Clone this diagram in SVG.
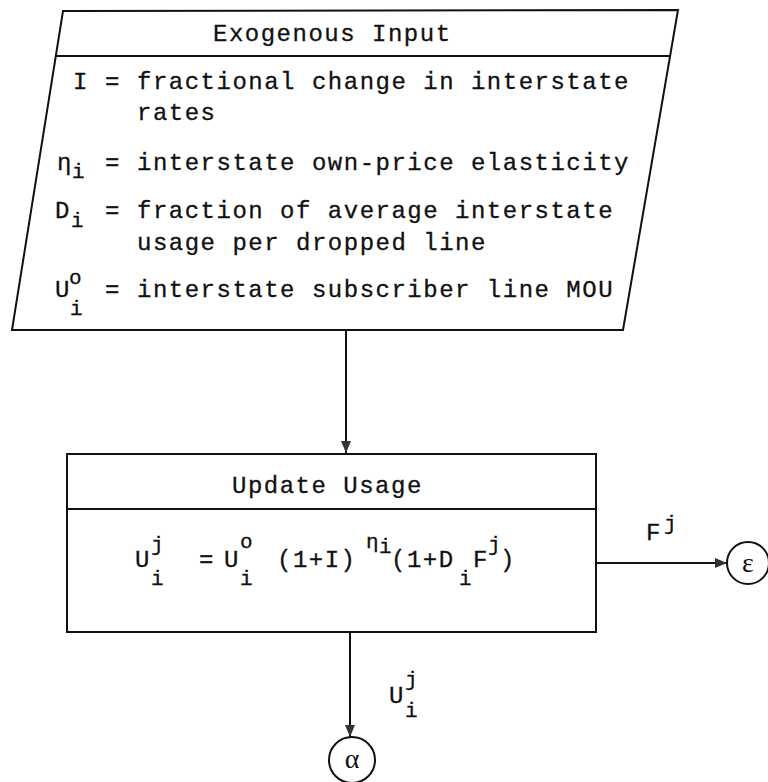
<svg xmlns="http://www.w3.org/2000/svg" width="768" height="782" viewBox="0 0 768 782">
<defs>
<style>
.t{font-family:"Liberation Mono","DejaVu Sans Mono",monospace;font-size:24px;letter-spacing:1.5px;fill:#111;stroke:#111;stroke-width:0.3}
.s{font-family:"Liberation Mono","DejaVu Sans Mono",monospace;font-size:21px;fill:#111;stroke:#111;stroke-width:0.3}
.g{font-family:"Liberation Serif","DejaVu Serif",serif;font-size:28px;fill:#111}
.ln{fill:none;stroke:#111;stroke-width:2}
</style>
<marker id="ah" viewBox="0 0 12 10" refX="12" refY="5" markerWidth="12" markerHeight="10" markerUnits="userSpaceOnUse" orient="auto">
<path d="M0,0 L12,5 L0,10 Z" fill="#333"/>
</marker>
</defs>
<rect width="768" height="782" fill="#fff"/>

<g id="exogenous-input">
<polygon class="ln" points="63,11 678,10 623,330 12,330"/>
<line class="ln" x1="56" y1="56" x2="671" y2="56"/>
<text class="t" x="213" y="41">Exogenous Input</text>
<text class="t" x="73" y="89">I</text>
<text class="t" x="105" y="89">=</text>
<text class="t" x="137" y="89">fractional change in interstate</text>
<text class="t" x="137" y="120">rates</text>
<text class="t" x="57" y="170">η</text>
<text class="s" x="72" y="178">i</text>
<text class="t" x="105" y="170">=</text>
<text class="t" x="137" y="170">interstate own-price elasticity</text>
<text class="t" x="55" y="218">D</text>
<text class="s" x="71" y="227">i</text>
<text class="t" x="105" y="218">=</text>
<text class="t" x="137" y="218">fraction of average interstate</text>
<text class="t" x="137" y="250">usage per dropped line</text>
<text class="t" x="55" y="297">U</text>
<text class="s" x="69" y="284">o</text>
<text class="s" x="70" y="315">i</text>
<text class="t" x="105" y="297">=</text>
<text class="t" x="137" y="297">interstate subscriber line MOU</text>
</g>

<g id="update-usage">
<rect class="ln" x="67" y="454" width="529" height="178"/>
<line class="ln" x1="67" y1="509" x2="596" y2="509"/>
<text class="t" x="232" y="493">Update Usage</text>
<text class="t" x="135" y="567">U</text>
<text class="s" x="151" y="551">j</text>
<text class="s" x="151" y="585">i</text>
<text class="t" x="199" y="567">=</text>
<text class="t" x="224" y="567">U</text>
<text class="s" x="240" y="548">o</text>
<text class="s" x="240" y="585">i</text>
<text class="t" x="277" y="567">(1+I)</text>
<text class="s" x="366" y="548">η</text>
<text class="s" x="379" y="553">i</text>
<text class="t" x="391" y="567">(1+D</text>
<text class="s" x="459" y="585">i</text>
<text class="t" x="473" y="567">F</text>
<text class="s" x="488" y="551">j</text>
<text class="t" x="500" y="567">)</text>
</g>

<g id="epsilon">
<circle class="ln" cx="748" cy="563" r="21"/>
<text class="g" x="748" y="572" text-anchor="middle">ε</text>
</g>

<g id="alpha">
<circle class="ln" cx="352" cy="760" r="23"/>
<text class="g" x="352" y="768" text-anchor="middle">α</text>
</g>

<g id="connectors">
<line class="ln" x1="346" y1="330" x2="346" y2="453" marker-end="url(#ah)"/>
<line class="ln" x1="596" y1="563" x2="727" y2="563" marker-end="url(#ah)"/>
<line class="ln" x1="350" y1="632" x2="350" y2="737" marker-end="url(#ah)"/>
<text class="t" x="646" y="540">F</text>
<text class="s" x="664" y="530">j</text>
<text class="t" x="389" y="703">U</text>
<text class="s" x="405" y="686">j</text>
<text class="s" x="405" y="717">i</text>
</g>
</svg>
